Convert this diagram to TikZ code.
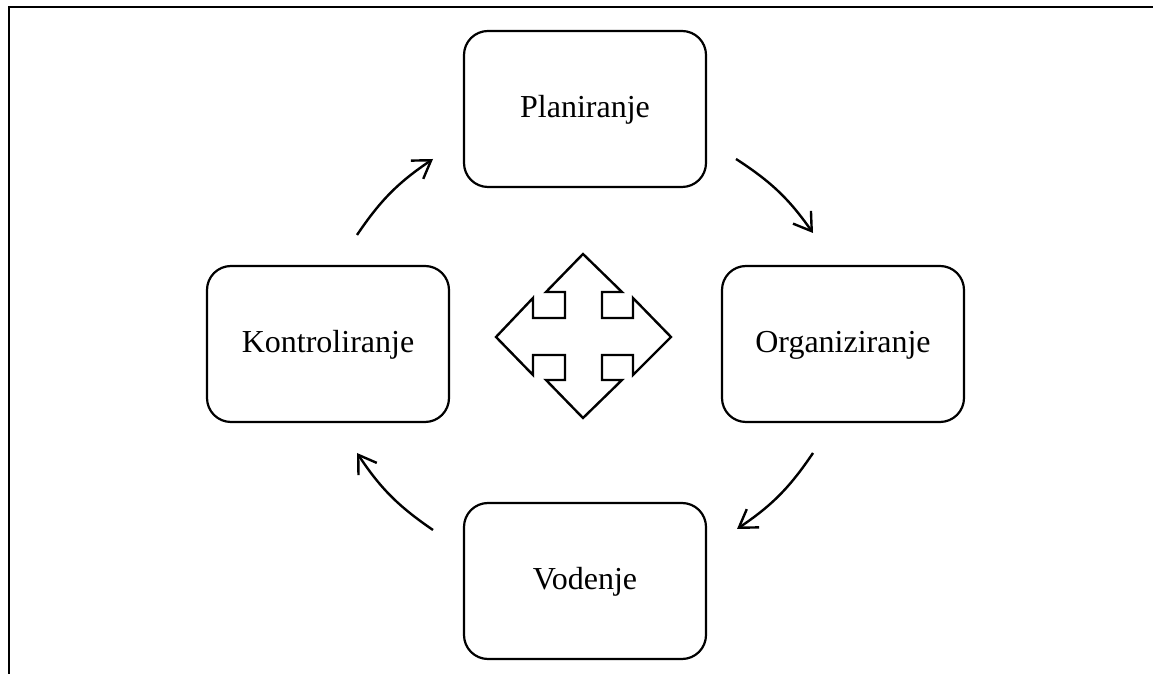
\documentclass[tikz,border=0pt]{standalone}
\usepackage{fontspec}
\setmainfont{Liberation Serif}
\usetikzlibrary{arrows.meta}
\begin{document}
\begin{tikzpicture}[x=1pt,y=1pt,
  stagebox/.style={draw=black, line width=2.2pt, rounded corners=24pt,
    minimum width=242pt, minimum height=156pt, inner sep=0pt,
    text height=22pt, text depth=4pt,
    font=\fontsize{32}{38}\selectfont},
  cyclearrow/.style={line width=2.4pt, -{Straight Barb[length=17pt, width=22pt, line width=2.4pt]}, bend left=11},
  frameline/.style={line width=2pt}]
\useasboundingbox (0,0) rectangle (1153,674);
% frame (top and left lines)
\coordinate (fa) at (8.5,0);
\coordinate (fb) at (8.5,667);
\coordinate (fc) at (1153,667);
\draw[frameline] (fa) -- (fb) -- (fc);
% stages
\node[stagebox] (plan) at (585,565) {Planiranje};
\node[stagebox] (org) at (843,330) {Organiziranje};
\node[stagebox] (vod) at (585,93) {Vodenje};
\node[stagebox] (kon) at (328,330) {Kontroliranje};
% arrows
\coordinate (a1s) at (736,515); \coordinate (a1e) at (813,441);
\coordinate (a2s) at (813,221); \coordinate (a2e) at (737,145);
\coordinate (a3s) at (433,144); \coordinate (a3e) at (357,221);
\coordinate (a4s) at (357,439); \coordinate (a4e) at (433,515);
\draw[cyclearrow] (a1s) to (a1e);
\draw[cyclearrow] (a2s) to (a2e);
\draw[cyclearrow] (a3s) to (a3e);
\draw[cyclearrow] (a4s) to (a4e);
% central four-way arrow
\draw[line width=2.4pt, line join=miter]
  (583,420) -- (622,382) -- (602,382) -- (602,356) -- (633,356) -- (633,376)
  -- (671,337) -- (633,299) -- (633,319) -- (602,319) -- (602,294) -- (622,294)
  -- (583,256) -- (546,294) -- (565,294) -- (565,319) -- (533,319) -- (533,299)
  -- (496,337) -- (533,376) -- (533,356) -- (565,356) -- (565,382) -- (546,382)
  -- cycle;
\end{tikzpicture}
\end{document}
